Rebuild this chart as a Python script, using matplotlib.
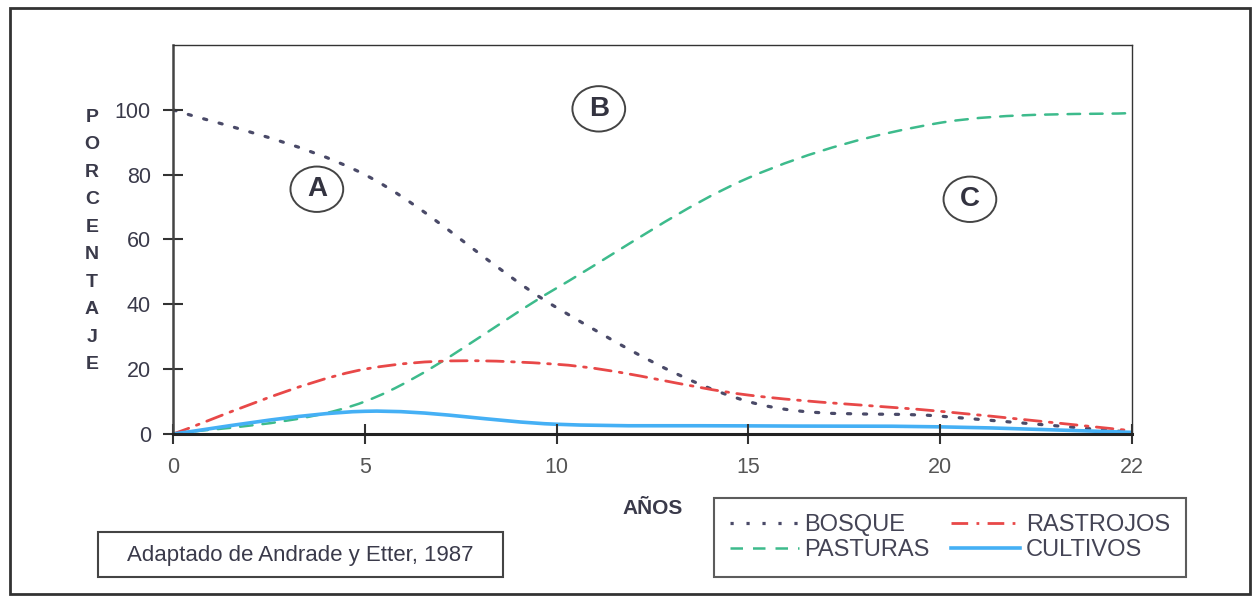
import matplotlib
matplotlib.use("Agg")
import matplotlib.pyplot as plt
from matplotlib.path import Path
from matplotlib.patches import PathPatch, Rectangle, Ellipse
from matplotlib.lines import Line2D
import numpy as np

plt.rcParams['font.family'] = ['Liberation Sans', 'DejaVu Sans']

# Data (Excel-style category axis: evenly spaced years)
years = ['0', '5', '10', '15', '20', '22']
bosque = [100, 80, 39, 10, 5.5, 0.5]
pasturas = [0, 10, 45, 79, 96, 99]
rastrojos = [0, 20, 21.5, 12, 7, 1]
cultivos = [0, 7, 3, 2.5, 2.2, 0.5]

series = [
    ('BOSQUE', bosque, '#4a4a68', (0, (1, 4)), 2.3),
    ('PASTURAS', pasturas, '#3dbb8c', (0, (5, 4)), 1.8),
    ('RASTROJOS', rastrojos, '#e84848', (0, (6, 3, 1, 3)), 2.0),
    ('CULTIVOS', cultivos, '#45b0f5', '-', 2.6),
]

# zone labels: letter, x (category index), y (%)
zones = [('A', 0.75, 75.5), ('B', 2.22, 100.3), ('C', 4.155, 72.4)]


def smooth_path(x, y):
    """Bezier path through the points, like Excel's smoothed line."""
    pts = np.column_stack([x, y]).astype(float)
    ext = np.vstack([pts[0], pts, pts[-1]])
    verts = [pts[0]]
    codes = [Path.MOVETO]
    for i in range(len(pts) - 1):
        p0, p1, p2, p3 = ext[i], ext[i + 1], ext[i + 2], ext[i + 3]
        verts += [p1 + (p2 - p0) / 6, p2 - (p3 - p1) / 6, p2]
        codes += [Path.CURVE4] * 3
    return Path(verts, codes)


fig = plt.figure(figsize=(12.6, 6.03), dpi=100)
ax = fig.add_axes([0.1373, 0.2803, 0.7611, 0.6451])

x = np.arange(len(years))
handles = []
for name, vals, color, ls, lw in series:
    patch = PathPatch(smooth_path(x, vals), facecolor='none', edgecolor=color,
                      linestyle=ls, linewidth=lw, capstyle='round')
    ax.add_patch(patch)
    handles.append(Line2D([], [], color=color, linestyle=ls, linewidth=lw, label=name))

ax.set_xlim(0, len(years) - 1)
ax.set_ylim(0, 120)
ax.set_xticks(x)
ax.set_xticklabels(years)
ax.set_yticks([0, 20, 40, 60, 80, 100])

ax.tick_params(axis='y', direction='inout', length=14, width=1.5, colors='#333333',
               labelsize=15.5, labelcolor='#3a3a4a', pad=9)
ax.tick_params(axis='x', direction='inout', length=15, width=1.5, colors='#333333',
               labelsize=15.5, labelcolor='#555555', pad=9)

for side in ['top', 'right']:
    ax.spines[side].set_linewidth(1.0)
    ax.spines[side].set_color('#333333')
ax.spines['left'].set_linewidth(1.8)
ax.spines['left'].set_color('#444444')
ax.spines['bottom'].set_linewidth(2.2)
ax.spines['bottom'].set_color('#222222')

# circled zone labels
for letter, zx, zy in zones:
    ax.add_patch(Ellipse((zx, zy), 0.275, 14.0, facecolor='none',
                         edgecolor='#444444', linewidth=1.4))
    ax.text(zx, zy, letter, fontsize=20, fontweight='bold', ha='center', va='center',
            color='#333340')

# vertical stacked axis title
for i, ch in enumerate('PORCENTAJE'):
    fig.text(0.073, 1 - (117 + i * 27.55) / 603, ch, fontsize=14, fontweight='bold',
             color='#3a3a4a', ha='center', va='center')
fig.text(0.518, 0.157, 'AÑOS', fontsize=15, fontweight='bold', color='#3a3a4a',
         ha='center', va='center')

leg = fig.legend(handles=handles, ncol=2, loc='lower left',
                 bbox_to_anchor=(714 / 1260, 26 / 603, 472 / 1260, 0.12), mode='expand',
                 fontsize=17, handlelength=2.9, handletextpad=0.25, columnspacing=1.5,
                 labelspacing=0.12, borderpad=0.68, frameon=True, fancybox=False,
                 borderaxespad=0)
leg.get_frame().set_edgecolor('#333333')
leg.get_frame().set_linewidth(1.5)
for t in leg.get_texts():
    t.set_color('#444455')

# source note box
fig.patches.append(Rectangle((98 / 1260, 1 - 577 / 603), 405 / 1260, 45 / 603,
                             transform=fig.transFigure, facecolor='none',
                             edgecolor='#444444', linewidth=1.5))
fig.text(300 / 1260, 1 - 555 / 603, 'Adaptado de Andrade y Etter, 1987', fontsize=16,
         color='#3a3a4a', ha='center', va='center')

# outer frame
fig.patches.append(Rectangle((10 / 1260, 1 - 594 / 603), 1240 / 1260, 586 / 603,
                             transform=fig.transFigure, facecolor='none',
                             edgecolor='#333333', linewidth=2.0))

fig.savefig('out.png', dpi=100)
